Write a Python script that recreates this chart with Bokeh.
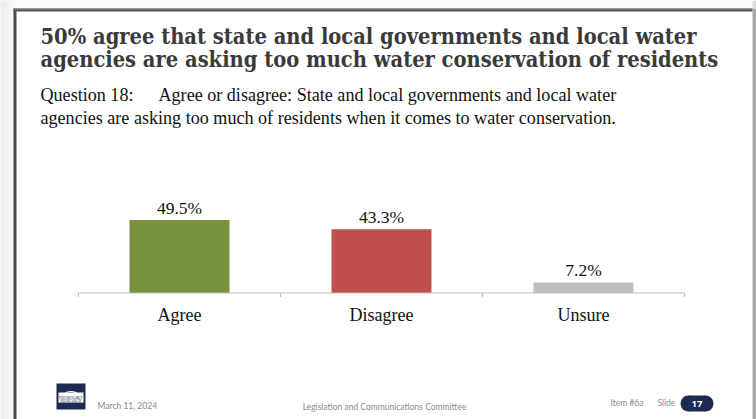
from bokeh.plotting import figure
from bokeh.models import Range1d, ColumnDataSource
from bokeh.core.properties import value
from bokeh.embed import file_html
from bokeh.resources import INLINE

# ---- data ----
categories = ["Agree", "Disagree", "Unsure"]
percents = [49.5, 43.3, 7.2]
bar_colors = ["#77933C", "#C0504D", "#BFBFBF"]
title_lines = [
    "50% agree that state and local governments and local water",
    "agencies are asking too much water conservation of residents",
]
question_label = "Question 18:"
question_lines = [
    "Agree or disagree: State and local governments and local water",
    "agencies are asking too much of residents when it comes to water conservation.",
]
footer_date = "March 11, 2024"
footer_committee = "Legislation and Communications Committee"
footer_item = "Item #6a"
footer_slide = "Slide"
slide_number = "17"

# ---- layout constants (pixels) ----
W, H = 756, 419
X0, XS = 179.0, 202.0      # pixel of category 0, pixels per category
Y0, YS = 292.5, 1.475      # pixel (from top) of value 0, pixels per percent


def dx(px):
    return (px - X0) / XS


def dy(py):
    return (Y0 - py) / YS


p = figure(width=W, height=H, output_backend="svg", toolbar_location=None,
           x_range=Range1d(dx(0), dx(W)), y_range=Range1d(dy(H), dy(0)),
           min_border=0, min_border_left=0, min_border_right=0,
           min_border_top=0, min_border_bottom=0)
p.axis.visible = False
p.grid.visible = False
p.outline_line_color = None
p.background_fill_color = "#f3f3f3"
p.border_fill_color = "#f3f3f3"


def txt(px, py, s, font, size, color="#111111", align="left", style="normal"):
    p.text(x=[dx(px)], y=[dy(py)], text=[s], text_font=value(font), text_font_size=size,
           text_font_style=style, text_color=color, text_align=align, text_baseline="middle")


# ---- slide frame ----
for i, c in enumerate(["#ececec", "#eeeeee", "#f0f0f0", "#f2f2f2", "#f4f4f4", "#f6f6f6", "#f8f8f8"]):
    p.quad(left=dx(i * 2), right=dx(i * 2 + 2), bottom=dy(H), top=dy(0), color=c, line_color=None)
p.quad(left=dx(14), right=dx(W), bottom=dy(H), top=dy(0), color="#fbfbfb", line_color=None)
p.quad(left=dx(14), right=dx(752), bottom=dy(H), top=dy(8), color="#ffffff", line_color=None)
p.quad(left=dx(13), right=dx(16), bottom=dy(H), top=dy(8), color="#4a4a4a", line_color=None)
p.quad(left=dx(13), right=dx(752), bottom=dy(11), top=dy(8), color="#555555", line_color=None)
p.quad(left=dx(13), right=dx(752), bottom=dy(9), top=dy(8), color="#8a8a8a", line_color=None)
p.quad(left=dx(752), right=dx(756), bottom=dy(H), top=dy(8), color="#a9a9a9", line_color=None)
p.quad(left=dx(752), right=dx(756), bottom=dy(8), top=dy(0), color="#dedede", line_color=None)

# ---- title & question ----
serif = "Liberation Serif"
title_font = "DejaVu Serif Condensed"
for i, t in enumerate(title_lines):
    txt(40, 36 + 23 * i, t, title_font, "21.7px", color="#3a3a3a", style="bold")
txt(40, 94, question_label, serif, "18.1px")
txt(158, 94, question_lines[0], serif, "18.1px")
txt(40, 117, question_lines[1], serif, "18.1px")

# ---- bars ----
xs = list(range(len(categories)))
src = ColumnDataSource(dict(x=xs, top=percents, color=bar_colors, cat=categories,
                            lab=[f"{v:.1f}%" for v in percents]))
p.vbar(x="x", top="top", bottom=0, width=0.495, color="color", line_color=None, source=src)
p.text(x="x", y="top", text="lab", source=src, text_align="center", text_baseline="middle",
       y_offset=-12, text_font=value(serif), text_font_size="17.5px", text_color="#111111")

# category axis: baseline, ticks at boundaries, labels
n = len(categories)
p.segment(x0=[-0.5], y0=[0], x1=[n - 0.5], y1=[0], line_color="#BFBFBF", line_width=1.2)
bounds = [i - 0.5 for i in range(n + 1)]
p.segment(x0=bounds, y0=[0] * len(bounds), x1=bounds, y1=[-4 / YS] * len(bounds),
          line_color="#BFBFBF", line_width=1.2)
p.text(x="x", y=0, text="cat", source=src, text_align="center", text_baseline="middle",
       y_offset=22, text_font=value(serif), text_font_size="18px", text_color="#111111")

# ---- footer ----
navy = "#1c2b4f"
p.quad(left=dx(56), right=dx(85), bottom=dy(409), top=dy(383), color=navy, line_color=None)
p.quad(left=dx(58), right=dx(83), bottom=dy(402), top=dy(392), color="#ffffff", line_color=None)
p.arc(x=dx(70.5), y=dy(402), radius=11 / XS, start_angle=0, end_angle=3.14159,
      line_color="#ffffff", line_width=1.2)
txt(70.5, 396.5, "PROBOLSKY", serif, "4px", color=navy, align="center")
txt(70.5, 400, "RESEARCH", serif, "4px", color=navy, align="center")

foot = "Lato"
txt(97, 405, footer_date, foot, "8.5px", color="#8a8a8a")
txt(384, 406, footer_committee, foot, "8.5px", color="#8a8a8a", align="center")
txt(610, 402.5, footer_item, foot, "8.5px", color="#8a8a8a")
txt(657, 402.5, footer_slide, foot, "8.5px", color="#8a8a8a")
p.quad(left=dx(688), right=dx(705), bottom=dy(411), top=dy(395), color=navy, line_color=None)
p.ellipse(x=[dx(688), dx(705)], y=[dy(403), dy(403)], width=16 / XS, height=16 / YS,
          color=navy, line_color=None)
txt(696.5, 403, slide_number, "Open Sans", "9.5px", color="#ffffff", align="center", style="bold")

open("out.html", "w").write(file_html(p, INLINE))
